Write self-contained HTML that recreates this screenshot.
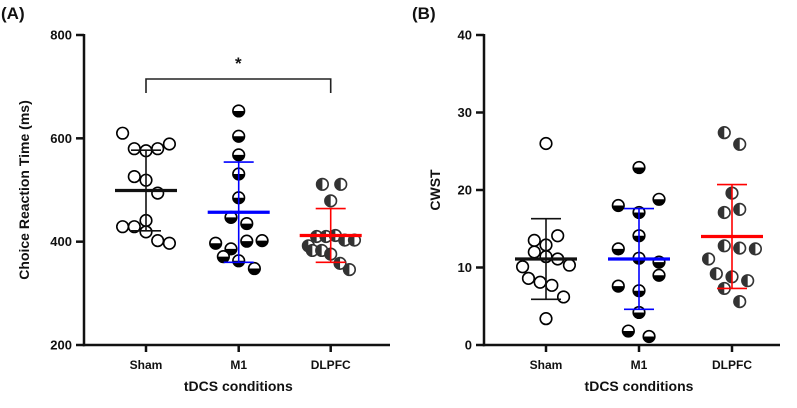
<!DOCTYPE html>
<html><head><meta charset="utf-8"><style>
body{margin:0;background:#fff;}
svg text{font-family:"Liberation Sans",Arial,sans-serif;font-weight:bold;fill:#111;}
</style></head><body>
<svg id="chart" width="797" height="403" viewBox="0 0 797 403" xmlns="http://www.w3.org/2000/svg"></svg>
<script>
const categories = ["Sham","M1","DLPFC"];
// Panel A: Choice reaction time (ms)
const aSham = [610,580,576,580,589,526,519,494,429,429,441,419,402,397];
const aShamJit = [-2,-1,0,1,2,-1,0,1,-2,-1,0,0,1,2];
const aM1 = [653,604,568,531,485,447,435,397,386,401,402,371,363,348];
const aM1Jit = [0,0,0,0,0,-0.66,0.69,-1.97,-0.66,0.69,2,-1.31,0,1.34];
const aDL = [511,511,479,410,410,412,403,403,392,383,383,376,358,346];
const aDLJit = [-0.71,0.86,0,-1.2,-0.4,0.4,1.2,2.03,-1.91,-1.57,-0.77,0,0.8,1.6];
const aMeans = [499,457,412];
const aSD = [78,97,52];
const aTicks = [200,400,600,800];
// Panel B: CWST
const bSham = [26.0,13.5,12.9,14.1,12.0,11.4,11.1,10.1,10.3,8.6,8.1,7.7,6.2,3.4];
const bShamJit = [0,-1,0,1,-1,0,1,-2,2,-1.5,-0.5,0.5,1.5,0];
const bM1 = [22.9,18.8,18.0,17.1,14.1,12.4,11.2,10.7,9.0,7.6,7.0,4.2,1.8,1.1];
const bM1Jit = [0,1.71,-1.77,0,0,-1.77,0,1.71,1.71,-1.77,0,0,-0.91,0.86];
const bDL = [27.4,25.9,19.6,17.1,17.5,12.8,12.5,12.4,11.1,9.2,8.8,8.3,7.3,5.6];
const bDLJit = [-0.66,0.66,0,-0.66,0.66,-0.66,0.66,2,-2,-1.34,0,1.34,-0.66,0.66];
const bMeans = [11.1,11.1,14.0];
const bSD = [5.2,6.5,6.7];
const bTicks = [0,10,20,30,40];

const NS="http://www.w3.org/2000/svg";
const svg=document.getElementById('chart');
function mk(tag,attrs,parent){const e=document.createElementNS(NS,tag);for(const k in attrs)e.setAttribute(k,attrs[k]);(parent||svg).appendChild(e);return e;}
const colors=["#111","#0000ff","#ff0000"];
const R=5.8, STEP=11.7;

function panel(p){
  const g=mk('g',{});
  
  
  const y=v=>p.y0-(v-p.min)/(p.max-p.min)*(p.y0-p.y1);
  const x=i=>p.cx[i];
  // axes
  const ya=mk('line',{x1:p.ax,y1:p.y1-1,x2:p.ax,y2:p.y0+1.2,stroke:'#111','stroke-width':2.5},g);
  
  const xa=mk('line',{x1:p.ax-1.2,y1:p.y0,x2:p.xend,y2:p.y0,stroke:'#111','stroke-width':2.5},g);
  
  p.ticks.forEach(t=>{
    const tl=mk('line',{x1:p.ax-8,y1:y(t),x2:p.ax,y2:y(t),stroke:'#111','stroke-width':2.5},g);
    
    const tx=mk('text',{x:p.ax-12,y:y(t)+4.5,'text-anchor':'end','font-size':13},g);
    tx.textContent=t;
    
  });
  categories.forEach((c,i)=>{
    const tl=mk('line',{x1:x(i),y1:p.y0,x2:x(i),y2:p.y0+7,stroke:'#111','stroke-width':2.5},g);
    
    const tx=mk('text',{x:x(i),y:p.y0+24,'text-anchor':'middle','font-size':12},g);
    tx.textContent=c;
    
  });
  const xt=mk('text',{x:(p.cx[0]+p.cx[2])/2,y:391,'text-anchor':'middle','font-size':14},g);
  xt.textContent='tDCS conditions';
  
  const yt=mk('text',{x:0,y:0,'text-anchor':'middle','font-size':14,transform:`translate(${p.ytx},190) rotate(-90)`},g);
  yt.textContent=p.ytitle;
  
  const pl=mk('text',{x:p.lx,y:19,'font-size':17},g);
  pl.textContent=p.label;
  
  // points
  p.series.forEach((s,i)=>{
    s.vals.forEach((v,j)=>{
      const px=x(i)+s.jit[j]*STEP, py=y(v);
      const pg=mk('g',{},g);
      
      
      mk('circle',{cx:px,cy:py,r:R,fill:'#fff'},pg);
      if(i===1) mk('path',{d:`M${px-R},${py} A${R},${R} 0 0 0 ${px+R},${py} Z`,fill:'#000'},pg);
      if(i===2) mk('path',{d:`M${px},${py-R} A${R},${R} 0 0 0 ${px},${py+R} Z`,fill:'#333'},pg);
      mk('circle',{cx:px,cy:py,r:R,fill:'none',stroke:i===2?'#333':'#000','stroke-width':1.6},pg);
    });
  });
  // mean & sd
  p.means.forEach((m,i)=>{
    const col=colors[i];
    const sd=mk('g',{},g);
    
    
    mk('line',{x1:x(i),y1:y(m+p.sd[i]),x2:x(i),y2:y(m-p.sd[i]),stroke:col,'stroke-width':1.6},sd);
    mk('line',{x1:x(i)-15,y1:y(m+p.sd[i]),x2:x(i)+15,y2:y(m+p.sd[i]),stroke:col,'stroke-width':1.6},sd);
    mk('line',{x1:x(i)-15,y1:y(m-p.sd[i]),x2:x(i)+15,y2:y(m-p.sd[i]),stroke:col,'stroke-width':1.6},sd);
    const ml=mk('line',{x1:x(i)-31,y1:y(m),x2:x(i)+31,y2:y(m),stroke:col,'stroke-width':3.2},g);
    
    
  });
  return {g,x,y};
}

const A=panel({name:'panel-a',label:'(A)',lx:1,ax:84,xend:390,y0:345,y1:35,min:200,max:800,cx:[146,238.7,330.7],
  ticks:aTicks,ytitle:'Choice Reaction Time (ms)',ytx:29,
  series:[{vals:aSham,jit:aShamJit},{vals:aM1,jit:aM1Jit},{vals:aDL,jit:aDLJit}],means:aMeans,sd:aSD});
const br=mk('path',{d:`M${A.x(0)},93 V79 H${A.x(2)} V93`,fill:'none',stroke:'#222','stroke-width':1.6},A.g);

const st=mk('text',{x:(A.x(0)+A.x(2))/2,y:69,'text-anchor':'middle','font-size':17},A.g);
st.textContent='*';


panel({name:'panel-b',label:'(B)',lx:412,ax:484,xend:780,y0:345,y1:35,min:0,max:40,cx:[546,639,732],
  ticks:bTicks,ytitle:'CWST',ytx:440,
  series:[{vals:bSham,jit:bShamJit},{vals:bM1,jit:bM1Jit},{vals:bDL,jit:bDLJit}],means:bMeans,sd:bSD});
</script>
</body></html>
